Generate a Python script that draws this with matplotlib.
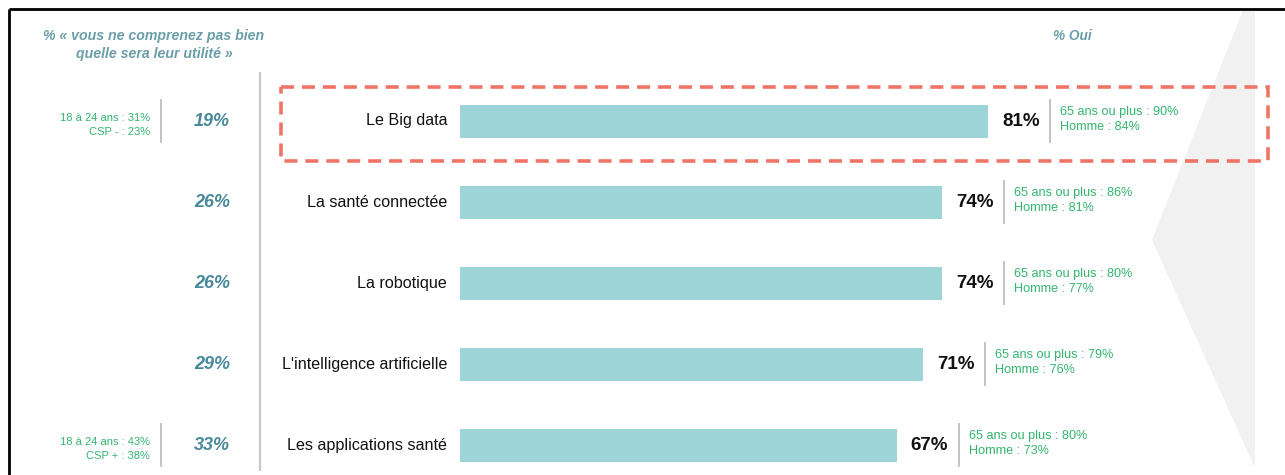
import matplotlib
matplotlib.use("Agg")
import matplotlib.pyplot as plt
import matplotlib.transforms as mtransforms
from matplotlib.patches import Polygon, Rectangle

plt.rcParams["font.family"] = ["Liberation Sans", "DejaVu Sans"]

# data
items = ["Le Big data", "La santé connectée", "La robotique",
         "L'intelligence artificielle", "Les applications santé"]
oui = [81, 74, 74, 71, 67]
pas_utile = [19, 26, 26, 29, 33]
senior_oui = [90, 86, 80, 79, 80]
homme_oui = [84, 81, 77, 76, 73]
jeunes_pas_utile = [31, None, None, None, 43]
csp_label = ["CSP -", None, None, None, "CSP +"]
csp_pas_utile = [23, None, None, None, 38]

header_left = "% « vous ne comprenez pas bien\nquelle sera leur utilité »"
header_right = "% Oui"

BAR = "#9dd4d8"
GREEN = "#33b56e"
TEAL = "#47889a"
HEAD = "#6a9ea8"
SEP = "#bdbdbd"
RED = "#ef7466"

W, H = 1285, 475
fig = plt.figure(figsize=(W / 100, H / 100), dpi=100)

# background axes in pixel coordinates for frame and decorations
bg = fig.add_axes([0, 0, 1, 1], zorder=0)
bg.set_xlim(0, W)
bg.set_ylim(H, 0)
bg.axis("off")

# bar axes: 100% = 652 px, rows 81.1 px apart, first row centred at y=121
row_px, row0_px, top_px = 81.1, 121, 40
ax = fig.add_axes([460 / W, 0, 652 / W, (H - top_px) / H], zorder=1)
ax.patch.set_alpha(0)
ax.set_xlim(0, 100)
ax.set_ylim((H - row0_px) / row_px, -(row0_px - top_px) / row_px)
ax.axis("off")

# light grey chevron on the right
bg.add_patch(Polygon([(1243, 10), (1255, 10), (1255, H), (1255, 468), (1152, 240)],
                     closed=True, facecolor="#f1f1f1", edgecolor="none"))

# frame (left and top only visible)
bg.plot([9, 9], [9, H], color="black", lw=2, solid_capstyle="butt")
bg.plot([9, W], [9, 9], color="black", lw=2, solid_capstyle="butt")

bg.text(154, 45, header_left, ha="center", va="center", fontsize=10.2,
        fontweight="bold", fontstyle="italic", color=HEAD, linespacing=1.45)
bg.text(1053, 36, header_right, ha="left", va="center", fontsize=9.8,
        fontweight="bold", fontstyle="italic", color=HEAD)

# long vertical divider
bg.plot([260, 260], [73, 470], color="#c8c8c8", lw=1.6)

rows = list(range(len(items)))
ax.barh(rows, oui, height=33 / row_px, color=BAR, edgecolor="none")

mix = mtransforms.blended_transform_factory(bg.transData, ax.transData)


def shifted(dx):
    return mtransforms.offset_copy(ax.transData, fig=fig, x=dx, units="dots")


for i, (name, v) in enumerate(zip(items, oui)):
    ax.text(0, i, name, transform=shifted(-13), ha="right", va="center",
            fontsize=11.6, color="#111111")
    ax.text(v, i, f"{v}%", transform=shifted(14), ha="left", va="center",
            fontsize=13.5, fontweight="bold", color="#111111")
    ax.plot([v, v], [i - 0.26, i + 0.26], transform=shifted(62),
            color=SEP, lw=1.3)
    ax.text(v, i - 0.02, f"65 ans ou plus : {senior_oui[i]}%\nHomme : {homme_oui[i]}%",
            transform=shifted(72), ha="left", va="center", fontsize=9.1,
            color=GREEN, linespacing=1.3)

    bg.text(212, i, f"{pas_utile[i]}%", transform=mix, ha="center", va="center",
            fontsize=13, fontweight="bold", fontstyle="italic", color=TEAL)
    if jeunes_pas_utile[i] is not None:
        bg.plot([161, 161], [i - 0.26, i + 0.26], transform=mix, color=SEP, lw=1.3)
        bg.text(150, i + 0.05,
                f"18 à 24 ans : {jeunes_pas_utile[i]}%\n{csp_label[i]} : {csp_pas_utile[i]}%",
                transform=mix, ha="right", va="center", fontsize=8,
                color=GREEN, linespacing=1.5, multialignment="right")

# dashed highlight around the first row
bg.add_patch(Rectangle((281, -0.425), 1268 - 281, 0.92, transform=mix,
                       fill=False, edgecolor=RED, lw=2.6,
                       linestyle=(0, (3.6, 2.2))))

fig.savefig("out.png", dpi=100)
